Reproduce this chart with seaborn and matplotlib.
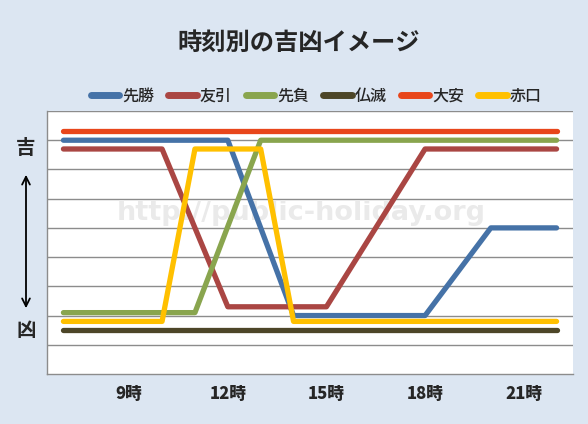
import matplotlib
matplotlib.use("Agg")
import matplotlib.pyplot as plt
import seaborn as sns
import pandas as pd

hours = [7, 8, 9, 10, 11, 12, 13, 14, 15, 16, 17, 18, 19, 20, 21, 22]
senkachi = [8, 8, 8, 8, 8, 8, 5, 2, 2, 2, 2, 2, 3.5, 5, 5, 5]
tomobiki = [7.7, 7.7, 7.7, 7.7, 5.0, 2.3, 2.3, 2.3, 2.3, 4.1, 5.9, 7.7, 7.7, 7.7, 7.7, 7.7]
senmake = [2.1, 2.1, 2.1, 2.1, 2.1, 5.05, 8, 8, 8, 8, 8, 8, 8, 8, 8, 8]
butsumetsu = [1.5] * 16
taian = [8.3] * 16
shakku = [1.8, 1.8, 1.8, 1.8, 7.7, 7.7, 7.7, 1.8, 1.8, 1.8, 1.8, 1.8, 1.8, 1.8, 1.8, 1.8]

series_names = ["先勝", "友引", "先負", "仏滅", "大安", "赤口"]
series_values = [senkachi, tomobiki, senmake, butsumetsu, taian, shakku]
colors = ["#4572A7", "#AA4643", "#89A54E", "#4D4628", "#E8461B", "#FFC000"]
tick_hours = [9, 12, 15, 18, 21]
tick_labels = ["9時", "12時", "15時", "18時", "21時"]
title = "時刻別の吉凶イメージ"

rows = []
for name, vals in zip(series_names, series_values):
    for h, v in zip(hours, vals):
        rows.append({"hour": h, "value": v, "series": name})
df = pd.DataFrame(rows)

sns.set_style("white")
plt.rcParams["font.family"] = ["Noto Sans CJK JP", "DejaVu Sans"]

fig = plt.figure(figsize=(5.88, 4.24), dpi=100)
fig.patch.set_facecolor("#DCE6F2")
ax = fig.add_axes([47 / 588, 1 - 374 / 424, 526 / 588, 263 / 424])
ax.set_facecolor("white")

sns.lineplot(data=df, x="hour", y="value", hue="series", hue_order=series_names,
             palette=colors, linewidth=3.8, ax=ax, legend=False,
             solid_capstyle="round", solid_joinstyle="round", zorder=3)

ax.set_xlim(6.5, 22.5)
ax.set_ylim(0, 9)
ax.set_yticks(range(1, 10))
ax.set_yticklabels([])
ax.grid(axis="y", color="#8C8C8C", linewidth=1.0, zorder=0)
ax.set_axisbelow(True)
ax.set_xticks(tick_hours)
ax.set_xticklabels(tick_labels, fontsize=12, fontweight="heavy")
ax.tick_params(axis="x", length=0, pad=8)
ax.tick_params(axis="y", length=0)
ax.set_xlabel("")
ax.set_ylabel("")
for s in ["left", "bottom"]:
    ax.spines[s].set_color("#8C8C8C")
    ax.spines[s].set_linewidth(1.0)
ax.spines["right"].set_visible(False)
ax.spines["top"].set_visible(False)

ax.text(0.483, 0.612, "http://public-holiday.org", transform=ax.transAxes,
        ha="center", va="center", fontsize=19.5, fontweight="bold",
        color="#EAEAEA", family="DejaVu Sans", zorder=1)

fig.text(299 / 588, 1 - 43 / 424, title, ha="center", va="center",
         fontsize=17.5, fontweight="bold")

fig.text(26 / 588, 1 - 148 / 424, "吉", ha="center", va="center", fontsize=14,
         fontweight="bold")
fig.text(26 / 588, 1 - 330 / 424, "凶", ha="center", va="center", fontsize=14,
         fontweight="bold")
fig.add_artist(matplotlib.patches.FancyArrowPatch(
    (26 / 588, 1 - 172 / 424), (26 / 588, 1 - 311 / 424),
    transform=fig.transFigure, arrowstyle="<->", mutation_scale=14,
    color="black", linewidth=1.3))

handles = [matplotlib.lines.Line2D([], [], color=c, linewidth=5, solid_capstyle="round")
           for c in colors]
fig.legend(handles, series_names, loc="center", bbox_to_anchor=(316 / 588, 1 - 96 / 424),
           ncol=6, frameon=False, handlelength=1.8, handletextpad=0.15,
           columnspacing=0.9, prop={"weight": "medium", "size": 11.5})

fig.savefig("out.png", dpi=100, facecolor=fig.get_facecolor())
